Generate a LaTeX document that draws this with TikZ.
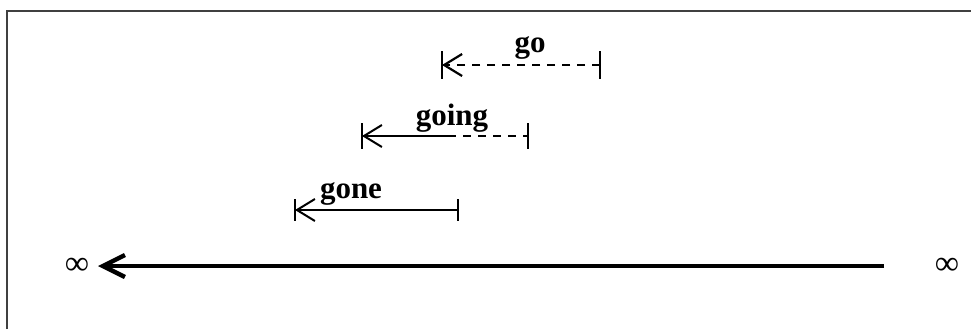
\documentclass[tikz,border=0pt]{standalone}
\usepackage{fontspec}
\setmainfont{Liberation Serif}
\usetikzlibrary{arrows.meta}
\usetikzlibrary{positioning}
\tikzset{
  lbl/.style={font=\fontsize{15.5}{18}\selectfont\bfseries,anchor=base,inner sep=0pt},
  inf/.style={font=\fontsize{17}{20}\selectfont,inner sep=0pt},
  span/.style={line width=1pt},
  later/.style={line width=1.1pt,dash pattern=on 4pt off 3.5pt},
  tickmark/.style={line width=1pt},
  barb/.style={-{Straight Barb[length=9pt,width=11pt]}},
  bigbarb/.style={line width=2.2pt,-{Straight Barb[length=11pt,width=11pt]}}
}

\begin{document}
\begin{tikzpicture}[x=0.5pt,y=-0.5pt]
      \useasboundingbox (0,0) rectangle (971,329);
      % frame
      \draw[black!75,line width=0.75pt] (7,329) -- (7,11) -- (971,11);
      % go
      \coordinate (goL) at (442,65);
      \coordinate (goR) at (600,65);
      \draw[later,barb] (goR) -- (goL);
      \draw[tickmark] (goL) ++(0,-14) -- ++(0,28);
      \draw[tickmark] (goR) ++(0,-14) -- ++(0,28);
      \node[lbl] (golbl) at (530,52) {go};
      % going
      \coordinate (goingL) at (362,136);
      \coordinate (goingM) at (448,136);
      \coordinate (goingR) at (528,136);
      \draw[span,barb] (goingM) -- (goingL);
      \draw[later] (goingM) -- (goingR);
      \draw[tickmark] (goingL) ++(0,-13) -- ++(0,26);
      \draw[tickmark] (goingR) ++(0,-13) -- ++(0,26);
      \node[lbl] (goinglbl) at (452,125) {going};
      % gone
      \coordinate (goneL) at (295,210);
      \coordinate (goneR) at (458,210);
      \draw[span,barb] (goneR) -- (goneL);
      \draw[tickmark] (goneL) ++(0,-11) -- ++(0,22);
      \draw[tickmark] (goneR) ++(0,-11) -- ++(0,22);
      \node[lbl] (gonelbl) at (351,198) {gone};
      % time line
      \node[inf] (infL) at (77,266) {∞};
      \node[inf] (infR) at (947,266) {∞};
      \coordinate (mainR) at (884,266);
      \coordinate (mainL) at (98,266);
      \draw[bigbarb] (mainR) -- (mainL);
\end{tikzpicture}
\end{document}
